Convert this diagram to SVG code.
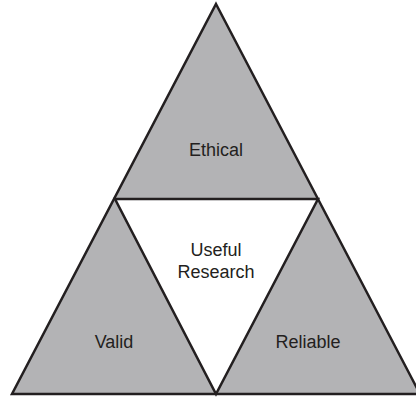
<svg xmlns="http://www.w3.org/2000/svg" width="416" height="397" viewBox="0 0 416 397">
<style>
.tri{fill:#b3b3b5;stroke:#231f20;stroke-width:2.5;stroke-linejoin:miter}
.inner{fill:#ffffff;stroke:#231f20;stroke-width:2.5}
.lbl{font-family:"Liberation Sans",Arial,sans-serif;font-size:18px;fill:#231f20;text-anchor:middle}
</style>
<rect width="416" height="397" fill="#ffffff"/>
<g id="outer">
<polygon class="tri" points="216,4 420,394 12,394"/>
</g>
<g id="useful-research">
<polygon class="inner" points="115,199 318,199 216,394"/>
<text class="lbl" x="216" y="256">Useful</text>
<text class="lbl" x="216" y="278">Research</text>
</g>
<g id="ethical">
<text class="lbl" x="216" y="156">Ethical</text>
</g>
<g id="valid">
<text class="lbl" x="114" y="348">Valid</text>
</g>
<g id="reliable">
<text class="lbl" x="308" y="348">Reliable</text>
</g>
<g id="connectors"></g>
</svg>
